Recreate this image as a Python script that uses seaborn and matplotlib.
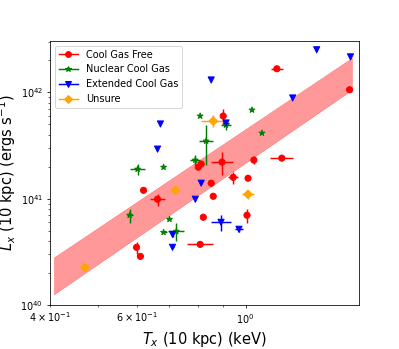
import numpy as np
import pandas as pd
import matplotlib
matplotlib.use("Agg")
import matplotlib.pyplot as plt
from matplotlib.lines import Line2D
import seaborn as sns

# Cool Gas Free
red_tx = [1.157, 1.626, 0.900, 0.895, 1.039, 1.184, 0.812, 0.801, 0.851, 0.943,
          1.011, 0.859, 0.620, 0.662, 0.820, 1.006, 0.808, 0.600, 0.611]
red_lx = [1.67e42, 1.06e42, 6.0e41, 2.21e41, 2.31e41, 2.41e41, 2.12e41, 1.98e41, 1.40e41, 1.59e41,
          1.56e41, 1.055e41, 1.20e41, 9.9e40, 6.7e40, 7.0e40, 3.72e40, 3.49e40, 2.87e40]
red_txerr = [0.032, 0, 0.008, 0.046, 0, 0.061, 0, 0, 0, 0.022,
             0, 0, 0, 0.022, 0, 0, 0.049, 0.006, 0]
red_lxerr = [0, 0, 1.04e41, 5.3e40, 2.0e40, 0, 0, 0, 9e39, 2.1e40,
             0, 0, 0, 1.3e40, 0, 1.06e40, 0, 4.5e39, 0]

# Nuclear Cool Gas
grn_tx = [1.030, 1.079, 0.831, 0.912, 0.808, 0.790, 0.603, 0.681, 0.581, 0.700, 0.681, 0.723]
grn_lx = [6.84e41, 4.15e41, 3.49e41, 4.94e41, 6.0e41, 2.31e41, 1.90e41, 1.98e41, 6.99e40, 6.41e40, 4.83e40, 4.94e40]
grn_txerr = [0, 0, 0.027, 0.021, 0, 0.018, 0.020, 0, 0.008, 0.0065, 0.0095, 0.027]
grn_lxerr = [0, 0, 1.4e41, 5.4e40, 0, 2.5e40, 2.1e40, 0, 1.06e40, 0, 0, 9.7e39]

# Extended Cool Gas
blu_tx = [1.394, 1.633, 0.851, 1.246, 0.912, 0.671, 0.662, 0.812, 0.790, 0.891, 0.969, 0.710, 0.710]
blu_lx = [2.52e42, 2.16e42, 1.31e42, 8.87e41, 5.16e41, 5.05e41, 2.93e41, 1.40e41, 9.89e40, 6.0e40, 5.16e40, 4.62e40, 3.49e40]
blu_txerr = [0, 0, 0, 0, 0.013, 0, 0, 0, 0, 0.041, 0.018, 0.0066, 0.0066]
blu_lxerr = [0, 0, 0, 0, 3.4e40, 0, 0, 0, 0, 1.04e40, 3.4e39, 3e39, 0]

# Unsure
org_tx = [0.859, 1.011, 0.720, 0.471]
org_lx = [5.38e41, 1.10e41, 1.20e41, 2.26e40]
org_txerr = [0.048, 0.028, 0, 0]
org_lxerr = [7e40, 9.5e39, 0, 0]

# fit band
band_tx = [0.4077, 1.644]
band_lo = [1.26e40, 1.06e42]
band_hi = [2.81e40, 2.12e42]

groups = {
    "Cool Gas Free": (red_tx, red_lx, red_txerr, red_lxerr, "red", "o"),
    "Nuclear Cool Gas": (grn_tx, grn_lx, grn_txerr, grn_lxerr, "green", "*"),
    "Extended Cool Gas": (blu_tx, blu_lx, blu_txerr, blu_lxerr, "blue", "v"),
    "Unsure": (org_tx, org_lx, org_txerr, org_lxerr, "orange", "D"),
}

rows = []
for name, (tx, lx, te, le, c, m) in groups.items():
    for i in range(len(tx)):
        rows.append({"Tx": tx[i], "Lx": lx[i], "txerr": te[i], "lxerr": le[i], "type": name})
df = pd.DataFrame(rows)

fig, ax = plt.subplots(figsize=(5.7, 4.986), dpi=70)
fig.subplots_adjust(left=0.125, right=0.9, bottom=0.126, top=0.883)

ax.fill_between(band_tx, band_lo, band_hi, color="red", alpha=0.4, linewidth=0.5)

handles = []
for name, (tx, lx, te, le, c, m) in groups.items():
    ax.errorbar(tx, lx, xerr=te, yerr=le, fmt="none", ecolor=c, elinewidth=1.5)
    handles.append(Line2D([], [], color=c, marker=m, markersize=6, label=name))

sns.scatterplot(data=df, x="Tx", y="Lx", hue="type", style="type",
                palette={k: v[4] for k, v in groups.items()},
                markers={k: v[5] for k, v in groups.items()},
                s=40, edgecolor="face", linewidth=1, legend=False, ax=ax, zorder=3)

ax.set_xscale("log")
ax.set_yscale("log")
ax.set_xlim(0.4, 1.7)
ax.set_ylim(1e40, 3.06e42)
ax.set_xlabel("$T_x$ (10 kpc) (keV)", fontsize=15)
ax.set_ylabel("$L_x$ (10 kpc) (ergs s$^{-1}$)", fontsize=15, labelpad=2)
ax.legend(handles=handles, loc="upper left")

fig.savefig("out.png", dpi=70)
